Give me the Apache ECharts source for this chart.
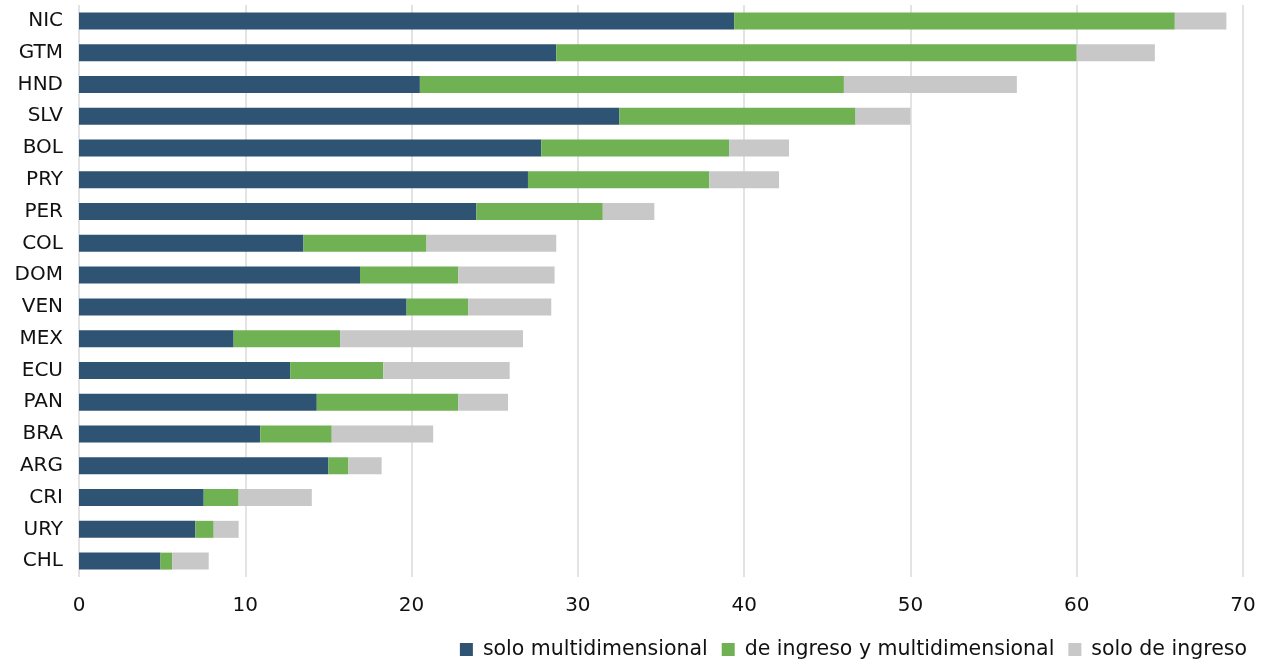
<!DOCTYPE html>
<html>
<head>
<meta charset="utf-8">
<title>Pobreza por ingreso y multidimensional</title>
<script src="https://cdn.jsdelivr.net/npm/echarts@6/dist/echarts.min.js"></script>
<style>
  html, body { margin: 0; padding: 0; background: #ffffff; }
  #chart { width: 1265px; height: 660px; }
</style>
</head>
<body>
<div id="chart"></div>
<script>
// Countries, top to bottom
const countries = ['NIC', 'GTM', 'HND', 'SLV', 'BOL', 'PRY', 'PER', 'COL', 'DOM',
                   'VEN', 'MEX', 'ECU', 'PAN', 'BRA', 'ARG', 'CRI', 'URY', 'CHL'];

// Stacked shares (%)
const soloMultidimensional = [39.4, 28.7, 20.5, 32.5, 27.8, 27.0, 23.9, 13.5, 16.9,
                              19.7, 9.3, 12.7, 14.3, 10.9, 15.0, 7.5, 7.0, 4.9];
const ingresoYMultidimensional = [26.5, 31.3, 25.5, 14.2, 11.3, 10.9, 7.6, 7.4, 5.9,
                                  3.7, 6.4, 5.6, 8.5, 4.3, 1.2, 2.1, 1.1, 0.7];
const soloIngreso = [3.1, 4.7, 10.4, 3.3, 3.6, 4.2, 3.1, 7.8, 5.8,
                     5.0, 11.0, 7.6, 3.0, 6.1, 2.0, 4.4, 1.5, 2.2];

const seriesNames = ['solo multidimensional', 'de ingreso y multidimensional', 'solo de ingreso'];
const seriesColors = ['#2f5372', '#70b153', '#c8c8c8'];

const FONT = '"DejaVu Sans", Lato, sans-serif';

const chart = echarts.init(document.getElementById('chart'), null, { renderer: 'canvas' });

const data = [soloMultidimensional, ingresoYMultidimensional, soloIngreso];

chart.setOption({
  animation: false,
  textStyle: { fontFamily: FONT },
  grid: { left: 79, right: 22, top: 5, bottom: 83, containLabel: false },
  legend: {
    data: seriesNames,
    right: 18,
    top: 639,
    padding: 0,
    icon: 'rect',
    itemWidth: 13,
    itemHeight: 13,
    itemGap: 14,
    textStyle: { fontFamily: FONT, fontSize: 20.5, color: '#111111', padding: [0, 0, 0, 5] }
  },
  xAxis: {
    type: 'value',
    min: 0,
    max: 70,
    interval: 10,
    axisLine: { show: false },
    axisTick: { show: false },
    axisLabel: { fontFamily: FONT, fontSize: 20, color: '#111111', margin: 19 },
    splitLine: { show: true, lineStyle: { color: '#dadada', width: 1.5 } }
  },
  yAxis: {
    type: 'category',
    inverse: true,
    data: countries,
    axisLine: { show: false },
    axisTick: { show: false },
    axisLabel: { fontFamily: FONT, fontSize: 20, color: '#111111', margin: 16 },
    splitLine: { show: false }
  },
  series: seriesNames.map((name, i) => ({
    name: name,
    type: 'bar',
    stack: 'total',
    barWidth: 17,
    itemStyle: { color: seriesColors[i] },
    data: data[i]
  }))
});
</script>
</body>
</html>
